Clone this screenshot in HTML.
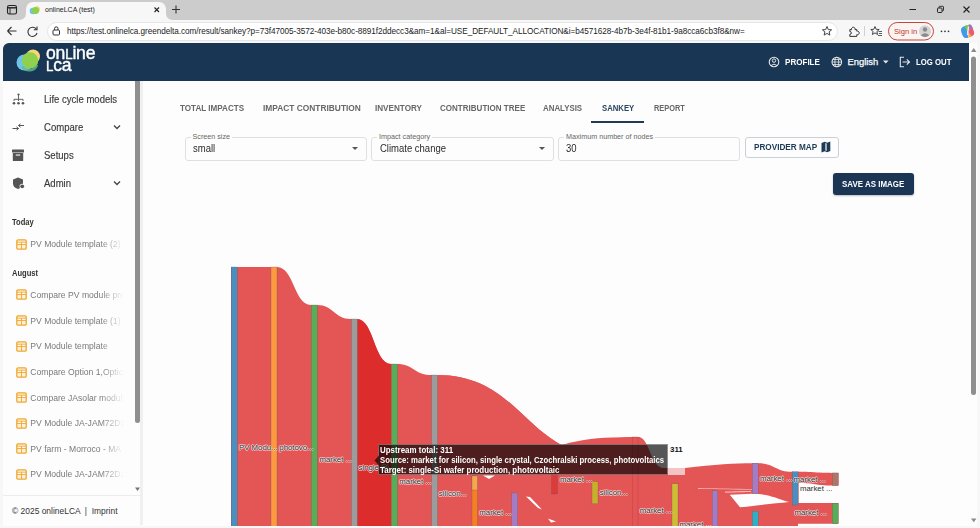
<!DOCTYPE html>
<html><head><meta charset="utf-8">
<style>
*{margin:0;padding:0;box-sizing:border-box}
html,body{width:980px;height:528px;overflow:hidden;background:#f7f7f7;font-family:"Liberation Sans",sans-serif}
.a{position:absolute;white-space:nowrap}
#tabstrip{left:0;top:0;width:980px;height:20px;background:#cccccc}
#tab{left:26px;top:2px;width:140px;height:19px;background:#f7f7f7;border-radius:7px 7px 0 0}
#toolbar{left:0;top:20px;width:980px;height:24px;background:#f7f7f7}
#url{left:47px;top:22px;width:791px;height:19px;background:#fff;border:1px solid #e6e6e6;border-radius:10px}
#content{left:3px;top:43px;width:974px;height:483px;background:#fdfdfd;border-radius:6px 0 0 6px;overflow:hidden}
#nav{left:3px;top:43px;width:966px;height:38px;background:#193654;border-radius:6px 0 0 0}
#side{left:3px;top:81px;width:137px;height:445px;background:#fdfdfd}
.si{color:#383838;font-size:10.6px;line-height:12px;-webkit-text-stroke:0.15px #383838;transform:scaleX(0.9);transform-origin:0 0}
.rc{color:#7a7a7a;font-size:8.6px;line-height:10px}
.hd{color:#333;font-size:8.8px;font-weight:bold;line-height:10px;transform:scaleX(0.86);transform-origin:0 0}
.tb{color:#676767;font-size:8.6px;font-weight:bold;line-height:10px}
.fl{color:#666;font-size:7.2px;line-height:8px;background:#fdfdfd;padding:0 2px}
.fv{color:#2a2a2a;font-size:10px;line-height:12px;transform:scaleX(0.95);transform-origin:0 0}
.box{border:1px solid #e0e0e0;border-radius:3px;position:absolute}
.lb{font-size:7.8px;line-height:10px;color:#2e2e2e;text-shadow:-0.7px 0 0 rgba(255,255,255,0.75),0.7px 0 0 rgba(255,255,255,0.75),0 0.7px 0 rgba(255,255,255,0.75),0 -0.7px 0 rgba(255,255,255,0.75)}
.tt{font-size:8.3px;line-height:10px;font-weight:bold;color:#fff;transform:scaleX(0.955);transform-origin:0 0}
.nt{color:#fff;font-size:9.6px;font-weight:bold;line-height:11px}
</style></head><body>
<!-- browser chrome -->
<div class="a" id="tabstrip"></div>
<div class="a" id="tab"></div>
<div class="a" id="toolbar"></div>
<div class="a" id="url"></div>
<div class="a" id="content"></div>
<div class="a" id="nav"></div>
<div class="a" id="side"></div>
<!-- tab strip contents -->
<svg class="a" style="left:0;top:0" width="980" height="44" viewBox="0 0 980 44">
  <!-- tab flares -->
  <path d="M19 20 Q26 20 26 13 L26 20 Z" fill="#f7f7f7"/>
  <path d="M173 20 Q166 20 166 13 L166 20 Z" fill="#f7f7f7"/>
  <!-- sidebar toggle icon -->
  <rect x="7.5" y="5.5" width="9" height="8.5" rx="1.8" fill="none" stroke="#222" stroke-width="1.1"/>
  <line x1="7.5" y1="7.8" x2="16.5" y2="7.8" stroke="#222" stroke-width="1.4"/>
  <line x1="10" y1="8" x2="10" y2="14" stroke="#222" stroke-width="0.9"/>
  <!-- favicon -->
  <circle cx="33" cy="11" r="3.3" fill="#6ec3ea"/>
  <circle cx="37" cy="9.3" r="3" fill="#f5d76e"/>
  <circle cx="35.5" cy="10.5" r="3.6" fill="#8bd04f"/>
  <!-- close x -->
  <path d="M154.5 7.5 L159 12 M159 7.5 L154.5 12" stroke="#222" stroke-width="1.1"/>
  <!-- plus -->
  <path d="M176 5.5 V13.5 M172 9.5 H180" stroke="#333" stroke-width="1.1"/>
  <!-- window controls -->
  <path d="M909.5 9.5 H916" stroke="#222" stroke-width="1"/>
  <rect x="937.5" y="8" width="4.5" height="4.5" rx="0.8" fill="none" stroke="#222" stroke-width="1"/>
  <path d="M939 8 V7 Q939 6.3 939.8 6.3 H942.7 Q943.5 6.3 943.5 7 V10 Q943.5 10.8 942.7 10.8 H942" fill="none" stroke="#222" stroke-width="0.9"/>
  <path d="M963.5 6.5 L969.5 12.5 M969.5 6.5 L963.5 12.5" stroke="#222" stroke-width="1.1"/>
  <!-- back arrow -->
  <path d="M7.5 31 H16.5 M7.5 31 L11.5 27 M7.5 31 L11.5 35" fill="none" stroke="#333" stroke-width="1.1"/>
  <!-- reload -->
  <path d="M36.5 29.5 A4.6 4.6 0 1 0 37 33" fill="none" stroke="#333" stroke-width="1.1"/>
  <path d="M37 26.5 V29.8 H33.8" fill="none" stroke="#333" stroke-width="1.1"/>
  <!-- lock -->
  <rect x="53" y="30" width="6.5" height="5" rx="1" fill="none" stroke="#333" stroke-width="1"/>
  <path d="M54.5 30 V28.6 A1.75 1.75 0 0 1 58 28.6 V30" fill="none" stroke="#333" stroke-width="1"/>
  <!-- star in url -->
  <path d="M827 26.5 L828.3 29.6 L831.6 29.8 L829.1 31.9 L829.9 35.1 L827 33.4 L824.1 35.1 L824.9 31.9 L822.4 29.8 L825.7 29.6 Z" fill="none" stroke="#333" stroke-width="0.9"/>
  <!-- extensions -->
  <path d="M849.8 29.6 H851.6 A1.8 1.8 0 1 1 855 29.6 H856.8 V31.2 A1.8 1.8 0 1 1 856.8 34.6 V36.4 H849.8 V34.4 A1.5 1.5 0 0 0 849.8 31.4 Z" fill="none" stroke="#333" stroke-width="1" stroke-linejoin="round"/>
  <line x1="864.5" y1="26" x2="864.5" y2="36" stroke="#d0d0d0" stroke-width="1"/>
  <!-- favorites -->
  <path d="M875 26.5 L876.2 29.3 L879.2 29.5 L876.9 31.5 L877.6 34.5 L875 32.9 L872.4 34.5 L873.1 31.5 L870.8 29.5 L873.8 29.3 Z" fill="none" stroke="#333" stroke-width="0.9"/>
  <path d="M878.5 31.5 H882 M879 33.5 H882 M878 35.5 H882" stroke="#333" stroke-width="0.8"/>
  <!-- sign in pill -->
  <rect x="888.5" y="22.5" width="45" height="17.5" rx="8.75" fill="#fbf4f3" stroke="#c9453a" stroke-width="1"/>
  <circle cx="925" cy="31.3" r="6" fill="#d4d4d4"/>
  <circle cx="925" cy="29.5" r="2.2" fill="#8a8a8a"/>
  <path d="M920.8 35.6 Q925 30.8 929.2 35.6 Q925 38.3 920.8 35.6Z" fill="#8a8a8a"/>
  <!-- dots -->
  <circle cx="941.5" cy="31.3" r="0.85" fill="#333"/><circle cx="945" cy="31.3" r="0.85" fill="#333"/><circle cx="948.5" cy="31.3" r="0.85" fill="#333"/>
  <!-- copilot -->
  <g transform="rotate(-20 967.5 31.5)">
  <path d="M961.5 30 Q961.5 25.5 966 25.5 H969 L966 37.5 Q961.5 37.5 961.5 33 Z" fill="#3f9be8"/>
  <path d="M966 25.5 H971 Q973.5 25.5 973.5 28.5 V30 L967.5 31 Z" fill="#7bc34a"/>
  <path d="M973.5 29.5 V33.5 Q973.5 37.5 969.5 37.5 H967 L968 31 Z" fill="#ec5a6f"/>
  <path d="M971 25.5 Q973.5 25.5 973.5 28.5 V30.5 L970 30 Z" fill="#a86ad8"/>
  <path d="M966 37.5 H970 L968.5 33.5 Z" fill="#f6a93b"/>
  <path d="M966.5 35 L970 27" stroke="#fff" stroke-width="1.1"/>
  </g>
</svg>
<div class="a" style="left:45px;top:5px;font-size:7px;line-height:10px;color:#222">onlineLCA (test)</div>
<div class="a" style="left:67px;top:26.5px;font-size:8.2px;line-height:10px;color:#222;letter-spacing:-0.05px">https://test.onlinelca.greendelta.com/result/sankey?p=73f47005-3572-403e-b80c-8891f2ddecc3&amp;am=1&amp;al=USE_DEFAULT_ALLOCATION&amp;i=b4571628-4b7b-3e4f-81b1-9a8cca6cb3f8&amp;nw=</div>
<div class="a" style="left:894px;top:26.5px;font-size:7.6px;line-height:10px;color:#c0392b">Sign in</div>
<!-- NAVBAR -->
<svg class="a" style="left:0;top:43px" width="980" height="38" viewBox="0 43 980 38">
  <circle cx="24.5" cy="62.5" r="8" fill="#6cc4ec"/>
  <circle cx="33" cy="56.5" r="7" fill="#f6d774"/>
  <circle cx="30" cy="60.5" r="8.3" fill="#8fd14f"/>
  <path d="M22.3 66.5 A8.3 8.3 0 0 0 37 65" fill="none" stroke="#5fc08a" stroke-width="2.5" opacity="0.8"/>
  <!-- profile icon -->
  <circle cx="774" cy="62" r="4.8" fill="none" stroke="#e8e8e8" stroke-width="1.1"/>
  <circle cx="774" cy="60.6" r="1.7" fill="none" stroke="#e8e8e8" stroke-width="1"/>
  <path d="M771 65.6 Q774 62.6 777 65.6" fill="none" stroke="#e8e8e8" stroke-width="1"/>
  <!-- globe -->
  <circle cx="836.8" cy="62" r="4.8" fill="none" stroke="#e8e8e8" stroke-width="1.1"/>
  <ellipse cx="836.8" cy="62" rx="2" ry="4.8" fill="none" stroke="#e8e8e8" stroke-width="0.9"/>
  <path d="M832 62 H841.6 M832.8 59.5 H840.8 M832.8 64.5 H840.8" stroke="#e8e8e8" stroke-width="0.8"/>
  <!-- caret -->
  <path d="M883 60.5 L888.6 60.5 L885.8 63.5 Z" fill="#e8e8e8"/>
  <!-- logout icon -->
  <path d="M904 57.2 H900.3 V66.8 H904" fill="none" stroke="#e8e8e8" stroke-width="1.1"/>
  <path d="M902.5 62 H909.5 M906.8 59.3 L909.5 62 L906.8 64.7" fill="none" stroke="#e8e8e8" stroke-width="1.1"/>
</svg>
<div class="a" style="left:45.5px;top:46px;color:#fff;font-size:18.5px;line-height:14px;letter-spacing:-0.2px;-webkit-text-stroke:0.4px #fff;transform:scaleX(0.95);transform-origin:0 0">on<span style="font-size:14px">L</span>ine</div>
<div class="a" style="left:45.5px;top:57.5px;color:#fff;font-size:18.5px;line-height:14px;letter-spacing:-0.2px;-webkit-text-stroke:0.4px #fff;transform:scaleX(0.95);transform-origin:0 0"><span style="font-size:14px">L</span>ca</div>
<div class="a nt" style="left:784.5px;top:56px;transform:scaleX(0.84);transform-origin:0 0">PROFILE</div>
<div class="a nt" style="left:847.5px;top:56px;font-weight:normal;font-size:9.4px;line-height:11px;-webkit-text-stroke:0.25px #fff">English</div>
<div class="a nt" style="left:915.5px;top:56px;transform:scaleX(0.81);transform-origin:0 0">LOG OUT</div>
<!-- SIDEBAR -->
<div class="a" style="left:135px;top:81px;width:5px;height:342px;background:#8f8f8f;border-radius:0 0 2.5px 2.5px"></div>
<div class="a" style="left:140px;top:81px;width:3px;height:444px;background:#f0f0f0"></div>
<svg class="a" style="left:0;top:81px" width="143" height="444" viewBox="0 81 143 444">
  <!-- life cycle models icon -->
  <circle cx="18.5" cy="94.5" r="1.1" fill="#555"/>
  <path d="M18.5 95 V99 M14 101 V99.3 H23 V101 M18.5 99.3 V101" fill="none" stroke="#555" stroke-width="0.9"/>
  <circle cx="14" cy="103.2" r="1.3" fill="#555"/><circle cx="18.5" cy="103.2" r="1.3" fill="#555"/><circle cx="23" cy="103.2" r="1.3" fill="#555"/>
  <!-- compare icon -->
  <path d="M12.5 128.5 H18.5 M16.5 126.8 L18.5 128.5 L16.5 130.2" fill="none" stroke="#555" stroke-width="1"/>
  <path d="M24 125.5 H18.5 M20.5 123.8 L18.5 125.5 L20.5 127.2" fill="none" stroke="#555" stroke-width="1"/>
  <!-- setups icon (archive box) -->
  <rect x="12" y="149.5" width="12" height="3" rx="0.6" fill="#555"/>
  <rect x="12.8" y="153" width="10.4" height="8" rx="0.6" fill="#555"/>
  <rect x="15.8" y="154.5" width="4.4" height="1.1" fill="#fdfdfd"/>
  <!-- admin icon shield -->
  <path d="M18 177.5 L23 179.5 V183.5 Q23 187.5 18 189 Q13 187.5 13 183.5 V179.5 Z" fill="#555"/>
  <circle cx="22.2" cy="186.3" r="2.6" fill="#fdfdfd"/>
  <circle cx="22.2" cy="186.3" r="1.9" fill="#555"/>
  <!-- chevrons -->
  <path d="M114 125.5 L117 128.5 L120 125.5" fill="none" stroke="#444" stroke-width="1.3"/>
  <path d="M114 181.5 L117 184.5 L120 181.5" fill="none" stroke="#444" stroke-width="1.3"/>
  <!-- scroll arrow -->
  <path d="M135 487.5 H140 L137.5 491 Z" fill="#777"/>
  <line x1="3" y1="495.5" x2="140" y2="495.5" stroke="#ececec" stroke-width="1"/>
</svg>
<div class="a si" style="left:44.3px;top:93px">Life cycle models</div>
<div class="a si" style="left:44.3px;top:121px">Compare</div>
<div class="a si" style="left:44.3px;top:149px">Setups</div>
<div class="a si" style="left:44.3px;top:177px">Admin</div>
<div class="a hd" style="left:12px;top:217px">Today</div>
<div class="a hd" style="left:12px;top:268px">August</div>
<svg class="a" style="left:15.5px;top:238.5px" width="11" height="11" viewBox="0 0 11 11"><rect x="0.8" y="0.8" width="9.4" height="9.4" rx="1.2" fill="#fdf1dc" stroke="#f0a830" stroke-width="1.3"/><path d="M1 5.5 H10 M5.5 3.2 V10 M1 3.2 H10" stroke="#f0a830" stroke-width="0.9"/><path d="M2.2 4.3 H4.8 M6.2 4.3 H8.8" stroke="#fff" stroke-width="0.6"/></svg><div class="a rc" style="left:30.3px;top:239.0px;width:94px;overflow:hidden;-webkit-mask-image:linear-gradient(90deg,#000 75%,transparent)">PV Module template (2)</div><svg class="a" style="left:15.5px;top:289.3px" width="11" height="11" viewBox="0 0 11 11"><rect x="0.8" y="0.8" width="9.4" height="9.4" rx="1.2" fill="#fdf1dc" stroke="#f0a830" stroke-width="1.3"/><path d="M1 5.5 H10 M5.5 3.2 V10 M1 3.2 H10" stroke="#f0a830" stroke-width="0.9"/><path d="M2.2 4.3 H4.8 M6.2 4.3 H8.8" stroke="#fff" stroke-width="0.6"/></svg><div class="a rc" style="left:30.3px;top:289.8px;width:94px;overflow:hidden;-webkit-mask-image:linear-gradient(90deg,#000 75%,transparent)">Compare PV module production</div><svg class="a" style="left:15.5px;top:315.1px" width="11" height="11" viewBox="0 0 11 11"><rect x="0.8" y="0.8" width="9.4" height="9.4" rx="1.2" fill="#fdf1dc" stroke="#f0a830" stroke-width="1.3"/><path d="M1 5.5 H10 M5.5 3.2 V10 M1 3.2 H10" stroke="#f0a830" stroke-width="0.9"/><path d="M2.2 4.3 H4.8 M6.2 4.3 H8.8" stroke="#fff" stroke-width="0.6"/></svg><div class="a rc" style="left:30.3px;top:315.6px;width:94px;overflow:hidden;-webkit-mask-image:linear-gradient(90deg,#000 75%,transparent)">PV Module template (1)</div><svg class="a" style="left:15.5px;top:340.9px" width="11" height="11" viewBox="0 0 11 11"><rect x="0.8" y="0.8" width="9.4" height="9.4" rx="1.2" fill="#fdf1dc" stroke="#f0a830" stroke-width="1.3"/><path d="M1 5.5 H10 M5.5 3.2 V10 M1 3.2 H10" stroke="#f0a830" stroke-width="0.9"/><path d="M2.2 4.3 H4.8 M6.2 4.3 H8.8" stroke="#fff" stroke-width="0.6"/></svg><div class="a rc" style="left:30.3px;top:341.4px;width:94px;overflow:hidden;-webkit-mask-image:linear-gradient(90deg,#000 75%,transparent)">PV Module template</div><svg class="a" style="left:15.5px;top:366.6px" width="11" height="11" viewBox="0 0 11 11"><rect x="0.8" y="0.8" width="9.4" height="9.4" rx="1.2" fill="#fdf1dc" stroke="#f0a830" stroke-width="1.3"/><path d="M1 5.5 H10 M5.5 3.2 V10 M1 3.2 H10" stroke="#f0a830" stroke-width="0.9"/><path d="M2.2 4.3 H4.8 M6.2 4.3 H8.8" stroke="#fff" stroke-width="0.6"/></svg><div class="a rc" style="left:30.3px;top:367.1px;width:94px;overflow:hidden;-webkit-mask-image:linear-gradient(90deg,#000 75%,transparent)">Compare Option 1,Option 2</div><svg class="a" style="left:15.5px;top:392.1px" width="11" height="11" viewBox="0 0 11 11"><rect x="0.8" y="0.8" width="9.4" height="9.4" rx="1.2" fill="#fdf1dc" stroke="#f0a830" stroke-width="1.3"/><path d="M1 5.5 H10 M5.5 3.2 V10 M1 3.2 H10" stroke="#f0a830" stroke-width="0.9"/><path d="M2.2 4.3 H4.8 M6.2 4.3 H8.8" stroke="#fff" stroke-width="0.6"/></svg><div class="a rc" style="left:30.3px;top:392.6px;width:94px;overflow:hidden;-webkit-mask-image:linear-gradient(90deg,#000 75%,transparent)">Compare JAsolar module</div><svg class="a" style="left:15.5px;top:417.5px" width="11" height="11" viewBox="0 0 11 11"><rect x="0.8" y="0.8" width="9.4" height="9.4" rx="1.2" fill="#fdf1dc" stroke="#f0a830" stroke-width="1.3"/><path d="M1 5.5 H10 M5.5 3.2 V10 M1 3.2 H10" stroke="#f0a830" stroke-width="0.9"/><path d="M2.2 4.3 H4.8 M6.2 4.3 H8.8" stroke="#fff" stroke-width="0.6"/></svg><div class="a rc" style="left:30.3px;top:418.0px;width:94px;overflow:hidden;-webkit-mask-image:linear-gradient(90deg,#000 75%,transparent)">PV Module JA-JAM72D10</div><svg class="a" style="left:15.5px;top:443.0px" width="11" height="11" viewBox="0 0 11 11"><rect x="0.8" y="0.8" width="9.4" height="9.4" rx="1.2" fill="#fdf1dc" stroke="#f0a830" stroke-width="1.3"/><path d="M1 5.5 H10 M5.5 3.2 V10 M1 3.2 H10" stroke="#f0a830" stroke-width="0.9"/><path d="M2.2 4.3 H4.8 M6.2 4.3 H8.8" stroke="#fff" stroke-width="0.6"/></svg><div class="a rc" style="left:30.3px;top:443.5px;width:94px;overflow:hidden;-webkit-mask-image:linear-gradient(90deg,#000 75%,transparent)">PV farm - Morroco - MA (1)</div><svg class="a" style="left:15.5px;top:468.5px" width="11" height="11" viewBox="0 0 11 11"><rect x="0.8" y="0.8" width="9.4" height="9.4" rx="1.2" fill="#fdf1dc" stroke="#f0a830" stroke-width="1.3"/><path d="M1 5.5 H10 M5.5 3.2 V10 M1 3.2 H10" stroke="#f0a830" stroke-width="0.9"/><path d="M2.2 4.3 H4.8 M6.2 4.3 H8.8" stroke="#fff" stroke-width="0.6"/></svg><div class="a rc" style="left:30.3px;top:469.0px;width:94px;overflow:hidden;-webkit-mask-image:linear-gradient(90deg,#000 75%,transparent)">PV Module JA-JAM72D10</div>
<div class="a" style="left:12px;top:506px;font-size:8.45px;line-height:10px;color:#333">© 2025 onlineLCA &nbsp;|&nbsp; Imprint</div>
<!-- MAIN TABS -->
<div class="a tb" style="left:179.9px;top:103px;transform:scaleX(0.941);transform-origin:0 0">TOTAL IMPACTS</div>
<div class="a tb" style="left:262.9px;top:103px;transform:scaleX(0.973);transform-origin:0 0">IMPACT CONTRIBUTION</div>
<div class="a tb" style="left:375.4px;top:103px;transform:scaleX(0.945);transform-origin:0 0">INVENTORY</div>
<div class="a tb" style="left:440.4px;top:103px;transform:scaleX(0.935);transform-origin:0 0">CONTRIBUTION TREE</div>
<div class="a tb" style="left:543px;top:103px;transform:scaleX(0.917);transform-origin:0 0">ANALYSIS</div>
<div class="a tb" style="left:601.6px;top:103px;color:#2a4562;transform:scaleX(0.900);transform-origin:0 0">SANKEY</div>
<div class="a tb" style="left:654.2px;top:103px;transform:scaleX(0.861);transform-origin:0 0">REPORT</div>
<div class="a" style="left:591px;top:121px;width:53px;height:2px;background:#1d3a57"></div>
<!-- FORM -->
<div class="box" style="left:184.5px;top:136.5px;width:182px;height:24px"></div>
<div class="box" style="left:371px;top:136.5px;width:182.5px;height:24px"></div>
<div class="box" style="left:558px;top:136.5px;width:182px;height:24px"></div>
<div class="a fl" style="left:190.5px;top:132.5px">Screen size</div>
<div class="a fl" style="left:377px;top:132.5px">Impact category</div>
<div class="a fl" style="left:564px;top:132.5px">Maximum number of nodes</div>
<div class="a fv" style="left:192.6px;top:142.5px">small</div>
<div class="a fv" style="left:379.5px;top:142.5px">Climate change</div>
<div class="a fv" style="left:566.4px;top:142.5px">30</div>
<svg class="a" style="left:0;top:0" width="980" height="200" viewBox="0 0 980 200">
  <path d="M352 147 H358 L355 150 Z" fill="#555"/>
  <path d="M539 147 H545 L542 150 Z" fill="#555"/>
  <!-- map icon -->
  <path d="M821.5 143 L824.8 141.8 L827.2 142.8 L830.3 141.6 V151 L827.2 152.2 L824.8 151.2 L821.5 152.4 Z" fill="#1d3a57"/>
  <path d="M825.4 143 L826.6 143.5 V151 L825.4 150.5 Z" fill="#fdfdfd"/>
</svg>
<div class="box" style="left:744.7px;top:136.5px;width:94px;height:21.5px;border-color:#c9d0d8"></div>
<div class="a tb" style="left:754.3px;top:142px;color:#1d3a57;transform:scaleX(0.952);transform-origin:0 0">PROVIDER MAP</div>
<div class="a" style="left:832.6px;top:173.3px;width:81.5px;height:21.5px;background:#1b3655;border-radius:3px;box-shadow:0 1px 2px rgba(0,0,0,0.25)"></div>
<div class="a tb" style="left:842.3px;top:178.8px;color:#fff;transform:scaleX(0.925);transform-origin:0 0">SAVE AS IMAGE</div>
<!-- SANKEY -->
<svg class="a" style="left:0;top:0" width="980" height="526" viewBox="0 0 980 526">
  <path fill="#e45656" d="M231 267 H277 C294 267 294 305 311 305 H317 C334 305 334 319 351 319 H357 C374 319 374 364 391 364 H397 C414 364 414 375 431 375 H437 C524.5 375.4 524.5 457 612 457 L 600 444 C 610 438 620 437 638 437 C650 437 650 468 664 468 H685 C715 464.5 735 463.3 752.5 463.3 H758 C775 463.3 775 471.8 792.4 471.8 H798.5 C815 471.8 815 472.9 832.3 472.9 H838.4 V485.6 H832.3 C815 485.6 815 483 798.5 483 V503 H838.4 V523.7 H798 V526 H231 Z"/>
  <path fill="#e45656" d="M437 375 C524.5 375.4 524.5 457 612 457 L612 470 L437 470 Z"/>
  <path fill="#e45656" d="M558 446 C 575 441 592 438.2 612 437.6 L640 437 V470 H558 Z"/>
  <path fill="#dd2c2c" d="M357 319 C374 319 374 364 391 364 V526 H357 Z"/>
  <!-- white gaps -->
  <path fill="#fdfdfd" d="M729.8 494.8 L752 493.8 C770 494 775 498 789 502 C775 503.5 760 505 740 507.3 Z"/>
  <path fill="#fdfdfd" opacity="0.55" d="M698 488 C720 488.5 735 488.8 752 489 V489.8 C735 489.6 720 489.4 698 489 Z"/>
  <path fill="#fdfdfd" opacity="0.6" d="M725 491.6 C735 491.3 740 491 751 491 V492 C740 492.2 735 492.5 725 492.8 Z"/>
  <path fill="#fdfdfd" d="M483 475.5 L495 475.5 L489 479 Z"/>
  <path fill="#fdfdfd" d="M526 496.5 L530 497 L542 509.5 L538 508 Z"/>
  <path fill="#fdfdfd" d="M548 518.5 L556 521.5 L551 522.5 Z"/>
  <path fill="#f3c4c4" d="M668 468 H685 V475 H668 Z"/>
  <!-- nodes -->
  <g stroke="#555" stroke-width="0.4" stroke-opacity="0.6">
  <rect x="231.2" y="267" width="6" height="260" fill="#4a8fc0"/>
  <rect x="271" y="267" width="6" height="260" fill="#fb9a3e"/>
  <rect x="311.3" y="305" width="6" height="222" fill="#5aad58"/>
  <rect x="351.4" y="319" width="6" height="208" fill="#9c9c9c"/>
  <rect x="391.5" y="364" width="6" height="163" fill="#5aad58"/>
  <rect x="431.6" y="375" width="6" height="152" fill="#9c9c9c"/>
  <rect x="472" y="476" width="5.5" height="51" fill="#f57f22"/>
  <rect x="472" y="476" width="5.5" height="14" fill="#f9a450"/>
  <rect x="511.7" y="493" width="6" height="34" fill="#a57cc3"/>
  <rect x="551.5" y="462" width="6" height="32" fill="#de3a3a"/>
  <rect x="592" y="481.6" width="6" height="22.2" fill="#c8ae2c"/>
  <rect x="632.5" y="437" width="5.5" height="90" fill="#e45656" stroke="#a33" stroke-opacity="0.7"/>
  <rect x="672" y="483.8" width="6" height="43" fill="#cfbb35"/>
  <rect x="712.2" y="490.8" width="5.6" height="36" fill="#a57cc3"/>
  <rect x="752.3" y="463.2" width="5.9" height="30.4" fill="#a57cc3"/>
  <rect x="752.3" y="511.2" width="5.9" height="16" fill="#2eafc6"/>
  <rect x="792.3" y="471.8" width="5.8" height="33.2" fill="#4a8fc0"/>
  <rect x="832.3" y="472.9" width="6" height="12.7" fill="#b07468"/>
  <rect x="832.3" y="503.4" width="6" height="20.3" fill="#5aad58"/>
  </g>
</svg>
<div class="a" style="left:0;top:0;width:980px;height:526px;overflow:hidden"><div class="a lb" style="left:239.0px;top:443.3px">PV Modu...</div><div class="a lb" style="left:279.3px;top:443.3px">photovo...</div><div class="a lb" style="left:319.5px;top:454.5px">market ...</div><div class="a lb" style="left:358.5px;top:463.0px">single-Si...</div><div class="a lb" style="left:399.3px;top:477.3px">market ...</div><div class="a lb" style="left:438.8px;top:489.0px">silicon...</div><div class="a lb" style="left:479.3px;top:508.2px">market ...</div><div class="a lb" style="left:560.0px;top:475.0px">market ...</div><div class="a lb" style="left:599.7px;top:487.7px">silicon...</div><div class="a lb" style="left:639.8px;top:505.7px">market ...</div><div class="a lb" style="left:679.5px;top:519.6px">market ...</div><div class="a lb" style="left:760.0px;top:473.6px">market ...</div><div class="a lb" style="left:793.6px;top:474.5px">market ...</div><div class="a lb" style="left:800.0px;top:483.5px">market ...</div><div class="a lb" style="left:794.5px;top:508.3px">market ...</div></div><!-- TOOLTIP -->
<div class="a" style="left:377.5px;top:444px;width:290.5px;height:31px;background:rgba(0,0,0,0.66);border:1px solid rgba(255,255,255,0.35)"></div>
<svg class="a" style="left:373.5px;top:454px" width="5" height="13" viewBox="0 0 5 13"><path d="M5 1.5 L0.5 6.5 L5 11.5 Z" fill="rgba(0,0,0,0.66)"/></svg>
<div class="a tt" style="left:380px;top:444.5px">Upstream total: 311</div>
<div class="a tt" style="left:380px;top:454.8px;transform:scaleX(0.935)">Source: market for silicon, single crystal, Czochralski process, photovoltaics</div>
<div class="a tt" style="left:380px;top:465.2px">Target: single-Si wafer production, photovoltaic</div>
<div class="a" style="left:670px;top:445px;font-size:7.9px;line-height:9px;font-weight:bold;color:#111">311</div>
<!-- PAGE SCROLLBAR -->
<div class="a" style="left:969px;top:43.5px;width:8px;height:481px;background:#fdfdfd;border-radius:0 5px 0 0"></div>
<svg class="a" style="left:965px;top:40px" width="15" height="488" viewBox="965 40 15 488">
  <path d="M971 52 H976.5 L973.75 48 Z" fill="#8a8a8a"/>
  <rect x="971" y="56.5" width="5" height="338.5" rx="2.5" fill="#8f8f8f"/>
  <path d="M971 518.5 H976.5 L973.75 522.3 Z" fill="#8a8a8a"/>
</svg>
</body></html>
